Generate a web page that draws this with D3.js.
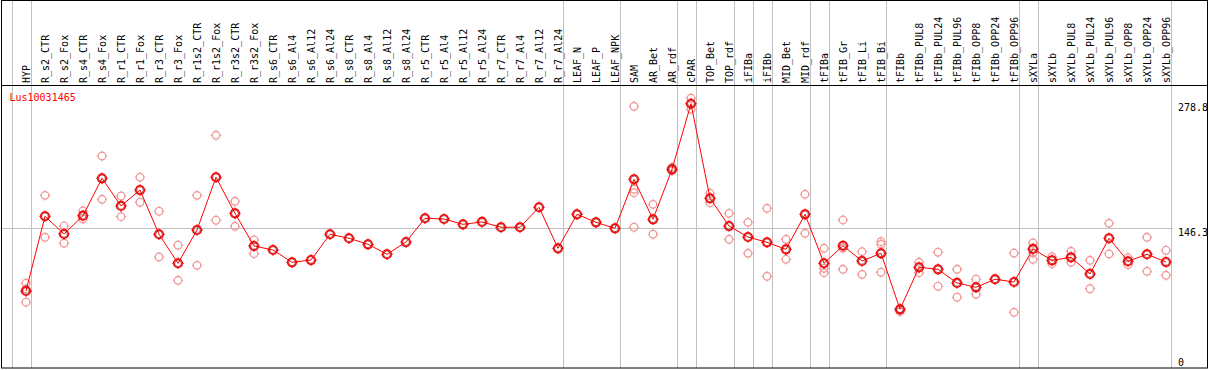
<!DOCTYPE html>
<html>
<head>
<meta charset="utf-8">
<script src="https://cdn.jsdelivr.net/npm/d3@7"></script>
<style>
  body { margin: 0; background: #fff; }
  svg text { font-family: "DejaVu Sans Mono", monospace; font-size: 10px; }
</style>
</head>
<body>
<svg id="chart" width="1209" height="370"></svg>
<script>
// sample names, in plot order
const samples = ["HYP", "R_s2_CTR", "R_s2_Fox", "R_s4_CTR", "R_s4_Fox", "R_r1_CTR", "R_r1_Fox",
  "R_r3_CTR", "R_r3_Fox", "R_r1s2_CTR", "R_r1s2_Fox", "R_r3s2_CTR", "R_r3s2_Fox",
  "R_s6_CTR", "R_s6_Al4", "R_s6_Al12", "R_s6_Al24", "R_s8_CTR", "R_s8_Al4", "R_s8_Al12", "R_s8_Al24",
  "R_r5_CTR", "R_r5_Al4", "R_r5_Al12", "R_r5_Al24", "R_r7_CTR", "R_r7_Al4", "R_r7_Al12", "R_r7_Al24",
  "LEAF_N", "LEAF_P", "LEAF_NPK", "SAM", "AR_Bet", "AR_rdf", "cPAR", "TOP_Bet", "TOP_rdf",
  "iFIBa", "iFIBb", "MID_Bet", "MID_rdf", "tFIBa", "tFIB_Gr", "tFIB_Li", "tFIB_Bi",
  "tFIBb", "tFIBb_PUL8", "tFIBb_PUL24", "tFIBb_PUL96", "tFIBb_OPP8", "tFIBb_OPP24", "tFIBb_OPP96",
  "sXYLa", "sXYLb", "sXYLb_PUL8", "sXYLb_PUL24", "sXYLb_PUL96", "sXYLb_OPP8", "sXYLb_OPP24", "sXYLb_OPP96"];

// how many samples in each group (a grey rule closes every group)
const groupSizes = [1, 28, 3, 3, 1, 2, 1, 1, 2, 1, 3, 7, 1, 7];

// mean expression per sample
const means = [79.8, 158.7, 140.0, 159.3, 198.8, 169.6, 186.4, 139.7, 109.1, 144.2, 199.9, 161.8, 127.3,
  123.1, 110.1, 112.5, 139.7, 135.5, 129.1, 118.6, 131.5,
  156.6, 155.8, 150.2, 152.7, 147.1, 147.1, 168.2, 124.9,
  160.8, 152.3, 146.0, 197.7, 155.5, 208.3, 277.5, 177.7, 148.4,
  136.8, 131.2, 123.8, 160.8, 109.1, 127.6, 111.5, 119.6,
  60.5, 104.8, 102.7, 88.3, 83.7, 92.2, 89.3,
  124.2, 112.2, 115.4, 97.8, 135.5, 111.2, 118.6, 110.4];

// replicate values per sample
const replicates = [[88, 82, 68], [180.8, 136.5], [148.4, 130.2], [164.3, 155.8], [222.3, 176.6],
  [180.1, 158.3], [199.9, 173.5], [164, 115.7], [128.1, 91.1], [180.8, 106.9], [244.2, 154.5],
  [174.5, 148.1], [133.7, 119.2],
  [], [], [], [], [], [], [], [], [], [], [], [], [], [], [], [], [], [], [],
  [274.8, 187.2, 183.6, 147.1], [171.3, 139.7], [210.4, 206.8], [283.3, 271.6], [183, 173],
  [161.8, 134.4], [152.3, 119.6], [167.1, 95.3], [134.4, 113.3], [181.9, 140.7],
  [124.9, 103.8, 99.1], [154.8, 124.9, 102.7], [121.3, 97.4], [131.9, 129.1, 99.6],
  [61, 58], [110.1, 99.1], [120.7, 84.8], [102.7, 73.2], [92.2, 76.3], [], [119.9, 57.3],
  [130.5, 120, 113.3], [116, 108.6], [121.7, 110.1], [112.2, 82.2], [151.3, 118.9],
  [115, 107.6], [136.5, 100.6], [122.8, 96.4]];

const geneId = "Lus10031465";
const yMaxLabel = 278.8;
const refValue = 146.3;

const svg = d3.select("#chart");

const x = d3.scalePoint().domain(samples).range([26, 1166]);
const step = x.step();
const y = d3.scaleLinear().domain([0, yMaxLabel]).range([366.6, 102.5]);

// group separators: one before the first sample, then after every group
let ends = [-1];
let acc = 0;
groupSizes.forEach(n => { acc += n; ends.push(acc - 1); });
svg.selectAll("line.sep")
  .data(ends).enter()
  .append("line")
  .attr("class", "sep")
  .attr("x1", d => Math.round(x(samples[0]) + d * step + 4.7) + 0.5)
  .attr("x2", d => Math.round(x(samples[0]) + d * step + 4.7) + 0.5)
  .attr("y1", 0)
  .attr("y2", 368)
  .attr("stroke", "#c0c0c0")
  .attr("stroke-width", 1);

// reference line
svg.append("line")
  .attr("x1", 1).attr("x2", 1173)
  .attr("y1", Math.round(y(refValue)) + 0.5).attr("y2", Math.round(y(refValue)) + 0.5)
  .attr("stroke", "#c0c0c0");

// header rule and frame
svg.append("line")
  .attr("x1", 1).attr("x2", 1208).attr("y1", 85.5).attr("y2", 85.5)
  .attr("stroke", "#000");
svg.append("rect")
  .attr("x", 1.5).attr("y", 0.5).attr("width", 1206).attr("height", 367.5)
  .attr("fill", "none").attr("stroke", "#000");

// sample labels, reading bottom to top
svg.selectAll("text.lab")
  .data(samples).enter()
  .append("text")
  .attr("class", "lab")
  .attr("transform", d => `translate(${x(d) + 3.5},83) rotate(-90)`)
  .attr("text-anchor", "start")
  .text(d => d);

// y labels
svg.append("g").selectAll("text")
  .data([yMaxLabel, refValue, 0]).enter()
  .append("text")
  .attr("x", 1178)
  .attr("y", d => Math.min(y(d) + 8, 366))
  .text(d => d);

svg.append("text")
  .attr("x", 9.5).attr("y", 101)
  .attr("fill", "#ff0000")
  .text(geneId);

// replicate points
const reps = [];
replicates.forEach((arr, i) => arr.forEach(v => reps.push({s: samples[i], v})));

function ticks(cx, cy, r) {
  return `M${cx},${cy - r - 1.5}v2M${cx},${cy + r - 0.5}v2M${cx - r - 1.5},${cy}h2M${cx + r - 0.5},${cy}h2`;
}

svg.append("g").selectAll("circle")
  .data(reps).enter()
  .append("circle")
  .attr("cx", d => x(d.s))
  .attr("cy", d => y(d.v))
  .attr("r", 3.8)
  .attr("fill", "none")
  .attr("stroke", "#f09a9a")
  .attr("stroke-width", 1.3);
svg.append("g").selectAll("path")
  .data(reps).enter()
  .append("path")
  .attr("d", d => ticks(x(d.s), y(d.v), 3.8))
  .attr("stroke", "#f09a9a")
  .attr("stroke-width", 1);

// mean line
const pts = samples.map((s, i) => ({s, v: means[i]}));
svg.append("path")
  .datum(pts)
  .attr("d", d3.line().x(d => x(d.s)).y(d => y(d.v)))
  .attr("fill", "none")
  .attr("stroke", "#ff0000")
  .attr("stroke-width", 1);

const mg = svg.append("g");
mg.selectAll("circle.outer")
  .data(pts).enter()
  .append("circle")
  .attr("cx", d => x(d.s))
  .attr("cy", d => y(d.v))
  .attr("r", 4.3)
  .attr("fill", "none")
  .attr("stroke", "#ff0000")
  .attr("stroke-width", 1.6);
mg.selectAll("circle.inner")
  .data(pts).enter()
  .append("circle")
  .attr("cx", d => x(d.s))
  .attr("cy", d => y(d.v))
  .attr("r", 3.3)
  .attr("fill", "none")
  .attr("stroke", "#800000")
  .attr("stroke-width", 0.6);
mg.selectAll("path")
  .data(pts).enter()
  .append("path")
  .attr("d", d => ticks(x(d.s), y(d.v), 4.3))
  .attr("stroke", "#ff0000")
  .attr("stroke-width", 1);
</script>
</body>
</html>
